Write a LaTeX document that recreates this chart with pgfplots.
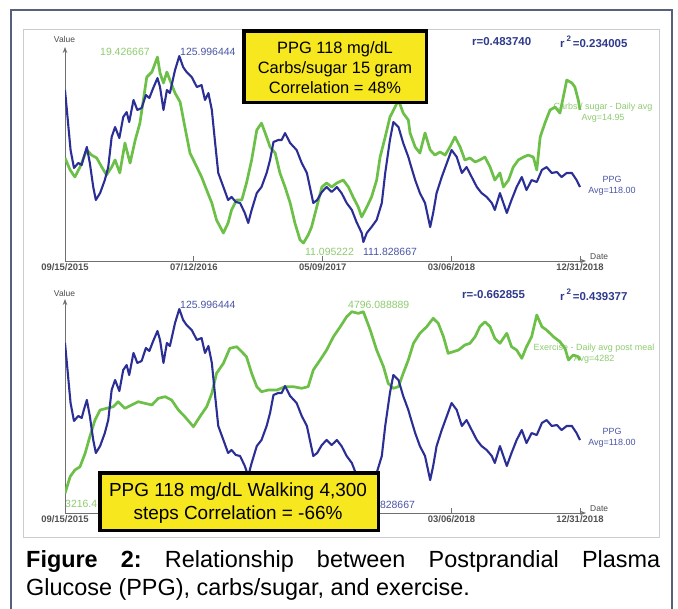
\documentclass[border=0pt]{standalone}
\usepackage{pgfplots}
\pgfplotsset{compat=1.18}
\usepackage{pgfplotstable}
\usetikzlibrary{arrows.meta}
\usepackage{fontspec}
\setmainfont{Liberation Sans}
\definecolor{ppgblue}{HTML}{2B2F95}
\definecolor{carbgreen}{HTML}{6CBF47}
\definecolor{lblblue}{HTML}{4A56A6}
\definecolor{lblgreen}{HTML}{8FCB70}
\definecolor{rblue}{HTML}{2E3A8C}
\definecolor{boxyellow}{HTML}{F6E71E}
\definecolor{framecol}{HTML}{56627A}
\definecolor{axgray}{HTML}{707070}

% PPG (mg/dL), days since 09/15/2015
\pgfplotstableread{
day v
0 123.41
5 121.66
13 118.84
21 117.47
31 117.85
39 117.70
44 118.31
51 119.07
58 117.85
66 116.02
72 115.03
82 115.56
93 116.55
101 117.54
109 119.83
117 120.59
127 119.75
136 121.35
144 121.73
150 120.97
160 122.65
169 121.89
179 122.04
189 123.03
197 122.80
206 123.56
216 124.32
222 123.64
230 121.89
238 123.41
245 123.18
257 124.93
267 126.00
276 125.16
284 124.78
296 124.40
308 123.64
319 123.79
327 122.65
335 123.18
343 121.89
350 119.60
358 117.09
370 116.02
381 115.03
389 115.26
399 114.88
409 114.80
420 114.04
428 113.28
436 114.27
448 115.56
459 116.02
471 117.09
479 118.08
487 119.45
498 119.60
506 119.60
514 120.13
526 119.37
541 118.84
553 117.85
565 117.09
572 116.02
580 114.80
589 115.03
600 115.64
611 116.02
623 115.64
635 116.02
646 115.56
658 114.80
670 114.27
681 113.35
693 112.52
697 111.83
705 112.52
716 112.97
728 113.51
740 114.80
748 117.09
759 119.60
767 120.97
779 120.59
790 119.37
802 118.31
806 117.85
818 116.55
829 115.56
841 114.80
853 112.97
860 114.04
868 115.56
880 116.78
892 117.85
903 118.84
915 118.31
927 117.09
938 117.54
950 116.78
962 116.02
973 115.56
985 115.26
997 114.80
1004 114.27
1016 115.56
1024 114.80
1032 114.04
1043 115.03
1055 116.02
1067 116.78
1078 115.79
1090 116.55
1102 116.40
1114 117.32
1125 117.54
1137 117.09
1149 117.16
1160 116.78
1172 117.09
1184 117.09
1195 116.55
1203 116.02
}\ppgtable

% Carbs/sugar daily avg (gram)
\pgfplotstableread{
day v
0 14.91
12 14.37
23 14.06
35 14.50
51 15.27
62 15.04
74 14.91
86 14.50
97 14.15
109 14.50
117 14.82
128 14.24
140 15.58
152 14.68
164 15.71
175 16.47
183 17.50
191 18.53
203 18.76
216 19.43
222 18.71
230 18.27
238 18.76
245 18.40
257 17.82
269 17.41
280 16.30
292 15.13
308 14.50
319 14.06
331 13.47
343 12.89
354 12.13
370 11.55
381 12.00
389 12.58
401 13.03
413 13.03
424 13.79
436 14.82
448 16.16
459 16.47
471 15.85
479 15.40
491 15.13
502 14.24
514 13.61
526 12.89
537 12.00
549 11.24
557 11.10
568 11.46
576 11.82
588 12.71
600 13.61
611 13.79
623 13.61
635 13.79
650 13.92
662 13.61
673 13.16
685 12.71
693 12.27
705 12.71
716 13.16
728 13.92
736 14.95
748 15.85
759 16.74
771 17.19
779 17.50
790 16.92
802 16.61
806 16.03
818 15.40
829 15.13
841 16.03
853 15.27
864 15.04
876 15.18
888 15.04
899 15.40
911 15.85
923 15.40
934 14.82
946 14.91
958 14.73
969 14.82
981 14.95
993 14.50
1004 13.92
1016 14.24
1024 13.61
1036 13.92
1047 14.50
1059 14.82
1071 14.95
1082 15.04
1094 14.95
1102 14.37
1110 15.85
1121 16.47
1133 17.06
1145 17.19
1156 16.92
1164 17.64
1172 18.40
1184 18.27
1191 18.09
1199 17.50
1203 17.06
}\carbtable

% Exercise daily avg post meal (steps)
\pgfplotstableread{
day v
0 3216
12 3361
23 3419
35 3447
47 3564
58 3708
70 3853
82 3940
97 3955
113 3969
124 4012
140 3955
156 3984
171 4012
187 3998
203 3984
218 4042
234 4056
249 4027
265 3940
280 3882
300 3795
315 3882
331 3969
343 4085
354 4259
370 4346
385 4476
401 4490
409 4461
424 4403
436 4259
448 4143
459 4099
475 4114
495 4114
514 4143
533 4143
553 4129
568 4143
580 4288
596 4375
611 4461
627 4577
643 4664
658 4751
670 4794
685 4780
697 4794
713 4635
728 4461
744 4316
755 4172
767 4129
779 4143
790 4259
802 4375
814 4520
829 4607
845 4664
860 4737
872 4693
884 4577
895 4433
907 4447
919 4461
934 4505
946 4520
958 4577
969 4664
981 4707
993 4664
1004 4563
1016 4520
1032 4607
1043 4490
1055 4461
1067 4389
1078 4490
1090 4577
1102 4766
1114 4664
1125 4635
1141 4577
1156 4534
1168 4476
1176 4375
1187 4418
1199 4403
1203 4375
}\extable

\pgfplotsset{
  panel/.style={scale only axis, width=521bp, height=214bp, xmin=0, xmax=1217, anchor=south west},
  mainax/.style={panel, axis lines=left,
    axis line style={draw=axgray, line width=0.9bp, -{Stealth[length=6bp,width=4.5bp]}},
    xtick={0,301,602,903,1203},
    ytick=\empty, tick align=inside, major tick length=5bp,
    x tick style={draw=axgray, line width=0.8bp},
    xticklabel style={font=\fontsize{9.5}{11}\selectfont\bfseries, text=black!68, inner sep=2.5bp}},
  overax/.style={panel, axis lines=none, ticks=none},
  gline/.style={carbgreen, line width=2.7bp, line join=round},
  bline/.style={ppgblue, line width=2.1bp, line join=round},
}
\tikzset{
  lbl/.style={inner sep=0pt, anchor=west, font=\fontsize{10.5}{12}\selectfont},
  side/.style={inner sep=0pt, align=center, font=\fontsize{9}{11}\selectfont},
  rtxt/.style={inner sep=0pt, anchor=west, text=rblue, font=\fontsize{11.5}{13}\selectfont\bfseries},
  small/.style={inner sep=0pt, text=black!70, font=\fontsize{8.5}{10}\selectfont},
}

\begin{document}
\begin{tikzpicture}
\fill[white] (0bp,0bp) rectangle (678bp,-609bp);
\path[use as bounding box] (0bp,0bp) rectangle (678bp,-609bp);
% outer frame and inner box
\draw[framecol, line width=1.8bp] (11bp,-609bp) -- (11bp,-10bp) -- (672bp,-10bp) -- (672bp,-609bp);
\draw[black!20, line width=0.8bp] (23bp,-29bp) rectangle (659bp,-537bp);

% ---------- top panel texts ----------
\node[small] at (64.5bp,-39bp) {Value};
\node[small, anchor=west] at (590bp,-257bp) {Date};
\node[lbl, text=lblgreen] at (100bp,-52bp) {19.426667};
\node[lbl, text=lblblue] at (180bp,-52bp) {125.996444};
\node[lbl, text=lblgreen] at (305bp,-252bp) {11.095222};
\node[lbl, text=lblblue] at (363bp,-252bp) {111.828667};
\node[side, text=lblgreen] at (603bp,-112.5bp) {Carbs / sugar - Daily avg\\Avg=14.95};
\node[side, text=lblblue] at (612bp,-186bp) {PPG\\Avg=118.00};
\node[rtxt] at (472bp,-42bp) {r=0.483740};
\node[rtxt] at (560bp,-42bp) {r\,\raisebox{0.5em}{\fontsize{8}{8}\selectfont 2}\,=0.234005};

% ---------- bottom panel texts ----------
\node[small] at (64.5bp,-293bp) {Value};
\node[small, anchor=west] at (590bp,-509bp) {Date};
\node[lbl, text=lblblue] at (180bp,-305bp) {125.996444};
\node[lbl, text=lblgreen] at (348bp,-305bp) {4796.088889};
\node[lbl, text=lblgreen] at (65bp,-504bp) {3216.4};
\node[lbl, text=lblblue] at (361bp,-505bp) {111.828667};
\node[side, text=lblgreen] at (594bp,-353.5bp) {Exercise - Daily avg post meal\\Avg=4282};
\node[side, text=lblblue] at (612bp,-437.5bp) {PPG\\Avg=118.00};
\node[rtxt] at (462bp,-295bp) {r=-0.662855};
\node[rtxt] at (560bp,-295bp) {r\,\raisebox{0.5em}{\fontsize{8}{8}\selectfont 2}\,=0.439377};

% ---------- top panel: carbs vs PPG ----------
\begin{axis}[mainax, at={(65bp,-261bp)}, ymin=10.295, ymax=19.88,
  xticklabels={09/15/2015,07/12/2016,05/09/2017,03/06/2018,12/31/2018}]
\addplot[gline] table[x=day, y=v] {\carbtable};
\end{axis}
\begin{axis}[overax, at={(65bp,-261bp)}, ymin=110.38, ymax=126.69]
\addplot[bline] table[x=day, y=v] {\ppgtable};
\end{axis}

% ---------- bottom panel: exercise vs PPG ----------
% (the 07/12/2016 and 05/09/2017 labels lie under the yellow box)
\begin{axis}[mainax, at={(65bp,-513bp)}, ymin=3045.3, ymax=4904.7,
  xticklabels={09/15/2015,,,03/06/2018,12/31/2018}]
\addplot[gline] table[x=day, y=v] {\extable};
\end{axis}
\begin{axis}[overax, at={(65bp,-513bp)}, ymin=110.46, ymax=126.76]
\addplot[bline] table[x=day, y=v] {\ppgtable};
\end{axis}

% ---------- yellow boxes ----------
\draw[fill=boxyellow, line width=3.5bp] (243.75bp,-30.75bp) rectangle (426.25bp,-102.25bp);
\node[align=center, inner sep=0pt, font=\fontsize{16.5}{20}\selectfont] at (335bp,-68bp)
  {PPG 118 mg/dL\\Carbs/sugar 15 gram\\Correlation = 48\%};
\draw[fill=boxyellow, line width=3.5bp] (99.75bp,-472.75bp) rectangle (378.25bp,-530.25bp);
\node[align=center, inner sep=0pt, font=\fontsize{19}{23}\selectfont] at (238bp,-503.5bp)
  {PPG 118 mg/dL Walking 4,300\\steps Correlation = -66\%};

% ---------- caption ----------
\node[anchor=base west, inner sep=0pt] at (26bp,-567bp)
  {\parbox[t]{634bp}{\fontsize{23.5}{29}\selectfont\hyphenpenalty=10000\frenchspacing
   \textbf{Figure 2:} Relationship between Postprandial Plasma\linebreak
   Glucose (PPG), carbs/sugar, and exercise.}};
\end{tikzpicture}
\end{document}
